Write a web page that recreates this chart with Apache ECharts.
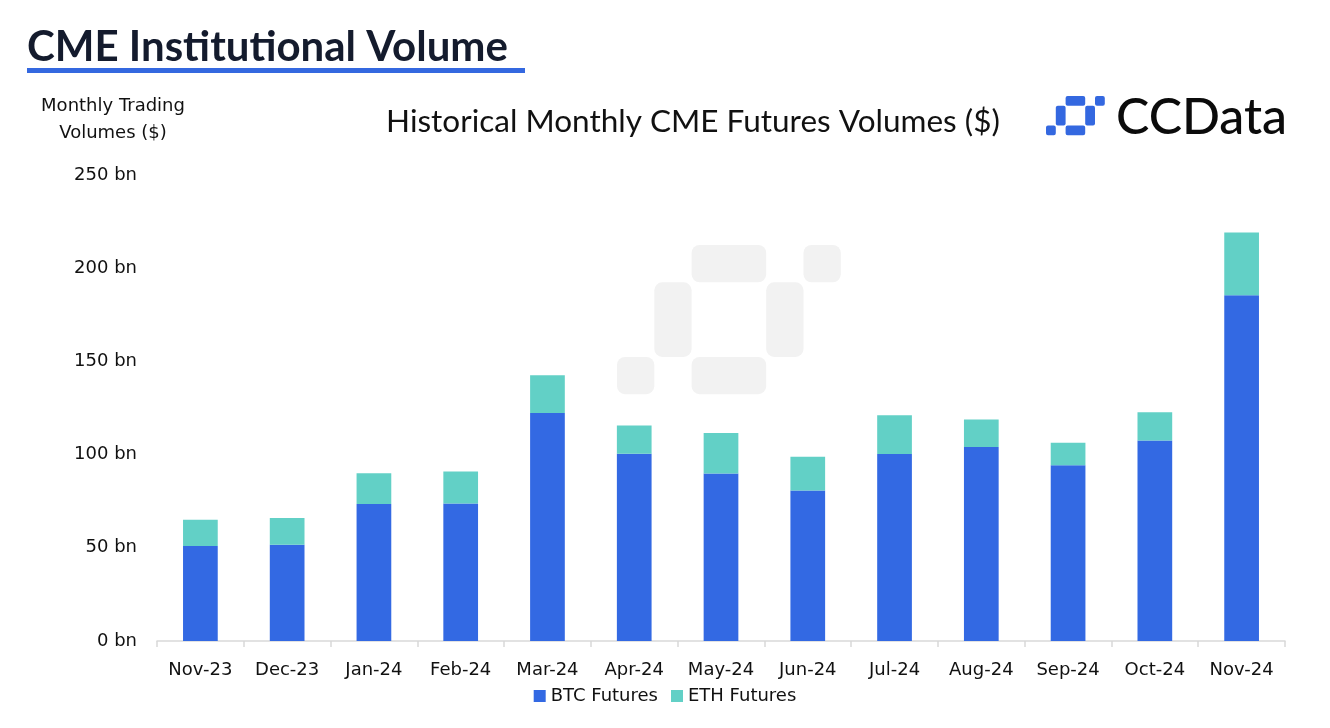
<!DOCTYPE html>
<html><head><meta charset="utf-8">
<script src="https://cdn.jsdelivr.net/npm/echarts@6/dist/echarts.min.js"></script>
<style>html,body{margin:0;padding:0;background:#fff}#c{width:1330px;height:728px}</style>
</head><body><div id="c"></div>
<script>
const categories = ['Nov-23','Dec-23','Jan-24','Feb-24','Mar-24','Apr-24','May-24','Jun-24','Jul-24','Aug-24','Sep-24','Oct-24','Nov-24'];
const btcFutures = [50.9, 51.7, 73.5, 73.7, 122.3, 100.5, 89.8, 80.8, 100.3, 104.1, 94.3, 107.5, 185.5];
const ethFutures = [14.2, 14.3, 16.5, 17.3, 20.3, 15.1, 21.8, 18.1, 20.8, 14.7, 12.1, 15.2, 33.7];
const yTicks = [0, 50, 100, 150, 200, 250];

const HFONT = 'Lato';
const BFONT = '"DejaVu Sans"';
const BLUE = '#3369e3', TEAL = '#62d0c6';

function pixelMark(x0, y0, u, color, r, z) {
  const cells = [[2,0,2,1],[5,0,1,1],[1,1,1,2],[4,1,1,2],[0,3,1,1],[2,3,2,1]];
  return cells.map(c => ({
    type: 'rect', silent: true, z: z,
    shape: { x: x0 + c[0]*u, y: y0 + c[1]*u, width: c[2]*u, height: c[3]*u, r: r },
    style: { fill: color }
  }));
}

const chart = echarts.init(document.getElementById('c'));
chart.setOption({
  animation: false,
  textStyle: { fontFamily: BFONT },
  graphic: [
    ...pixelMark(617, 245, 37.3, '#f2f2f2', 8, -10),
    ...pixelMark(1046, 96, 9.8, '#3468e0', 2, 1),
    { type: 'text', style: { x: 27, y: 47, text: 'CME Institutional Volume', font: 'bold 42px ' + HFONT, fill: '#141b2d', verticalAlign: 'middle', textVerticalAlign: 'middle' } },
    { type: 'rect', shape: { x: 27, y: 68, width: 498, height: 5 }, style: { fill: '#3468e0' } },
    { type: 'text', style: { x: 113, y: 106, text: 'Monthly Trading', font: '18px ' + BFONT, fill: '#111', align: 'center', verticalAlign: 'middle', textAlign: 'center', textVerticalAlign: 'middle' } },
    { type: 'text', style: { x: 113, y: 133, text: 'Volumes ($)', font: '18px ' + BFONT, fill: '#111', align: 'center', verticalAlign: 'middle', textAlign: 'center', textVerticalAlign: 'middle' } },
    { type: 'text', style: { x: 693, y: 122, text: 'Historical Monthly CME Futures Volumes ($)', font: '31.5px ' + HFONT, fill: '#111', align: 'center', verticalAlign: 'middle', textAlign: 'center', textVerticalAlign: 'middle' } },
    { type: 'text', style: { x: 1116, y: 118, text: 'CCData', font: '500 50px ' + HFONT, fill: '#0b0b0b', verticalAlign: 'middle', textVerticalAlign: 'middle' } }
  ],
  legend: {
    top: 682, left: 'center',
    itemWidth: 12, itemHeight: 12, itemGap: 13,
    icon: 'rect',
    textStyle: { fontSize: 18, color: '#111', fontFamily: BFONT },
    data: ['BTC Futures', 'ETH Futures']
  },
  grid: { left: 157, right: 45, top: 175, bottom: 87 },
  xAxis: {
    type: 'category', data: categories,
    axisLine: { lineStyle: { color: '#d9d9d9', width: 1.5 } },
    axisTick: { show: true, length: 6, lineStyle: { color: '#d9d9d9', width: 1.5 } },
    axisLabel: { fontSize: 18, color: '#111', margin: 20, interval: 0 }
  },
  yAxis: {
    type: 'value', min: 0, max: 250, interval: 50,
    splitLine: { show: false },
    axisLine: { show: false }, axisTick: { show: false },
    axisLabel: { fontSize: 18, color: '#111', margin: 20,
      formatter: v => yTicks.includes(v) ? v + ' bn' : '' }
  },
  series: [
    { name: 'BTC Futures', type: 'bar', stack: 'v', data: btcFutures, barWidth: '40%',
      itemStyle: { color: BLUE } },
    { name: 'ETH Futures', type: 'bar', stack: 'v', data: ethFutures, barWidth: '40%',
      itemStyle: { color: TEAL } }
  ]
});
</script></body></html>
